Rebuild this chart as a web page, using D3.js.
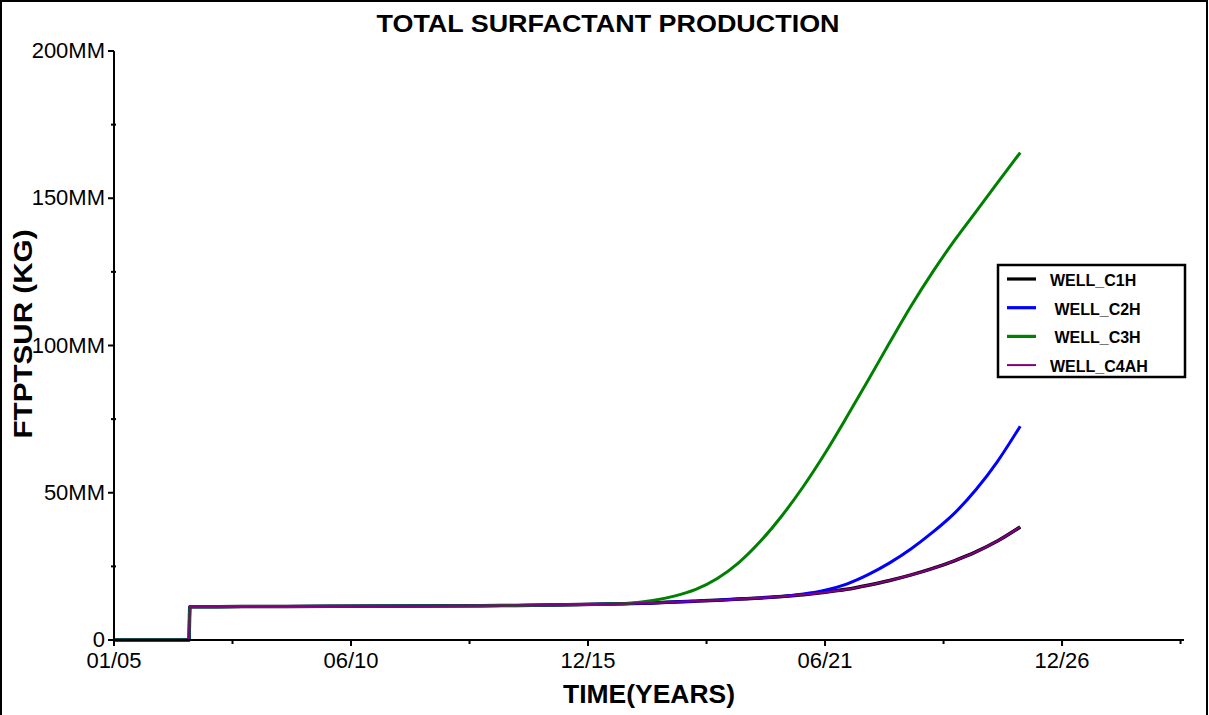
<!DOCTYPE html>
<html>
<head>
<meta charset="utf-8">
<script src="https://cdn.jsdelivr.net/npm/d3@7"></script>
<style>
  body { margin: 0; background: #fff; }
  text { font-family: Arial, "Liberation Sans", sans-serif; }
</style>
</head>
<body>
<script>
// time in decimal years, values in MM kg
const years = [2005.0, 2006.74, 2006.76, 2008, 2010, 2012, 2014, 2015.5, 2016.5, 2017.0,
  2017.5, 2018.0, 2018.5, 2019.0, 2019.5, 2020.0, 2020.5, 2021.0, 2021.5, 2022.0,
  2022.5, 2023.0, 2023.5, 2024.0, 2024.5, 2025.0, 2025.5, 2026.03];

const wellC1H = [0, 0, 11.3, 11.35, 11.45, 11.55, 11.7, 11.95, 12.2, 12.4,
  12.6, 12.9, 13.2, 13.5, 13.9, 14.3, 14.8, 15.4, 16.2, 17.2,
  18.6, 20.2, 22.1, 24.3, 26.9, 29.9, 33.6, 38.4];
const wellC2H = [0, 0, 11.3, 11.35, 11.45, 11.55, 11.7, 11.95, 12.2, 12.4,
  12.6, 12.9, 13.2, 13.5, 13.9, 14.3, 14.8, 15.6, 16.9, 19.0,
  22.2, 26.2, 31.0, 36.6, 43.0, 51.0, 60.6, 72.6];
const wellC3H = [0, 0, 11.3, 11.35, 11.45, 11.55, 11.7, 11.95, 12.22, 12.5,
  13.4, 14.9, 17.2, 20.9, 26.3, 33.5, 42.2, 52.2, 63.4, 75.6,
  88.2, 101.0, 113.5, 125.0, 135.6, 145.4, 155.2, 165.5];
const wellC4AH = [0, 0, 11.3, 11.35, 11.45, 11.55, 11.7, 11.95, 12.2, 12.4,
  12.6, 12.9, 13.2, 13.5, 13.9, 14.3, 14.8, 15.4, 16.2, 17.2,
  18.6, 20.2, 22.1, 24.3, 26.9, 29.9, 33.6, 38.4];

const seriesNames = ["WELL_C1H", " WELL_C2H", " WELL_C3H", "WELL_C4AH"];
const seriesValues = [wellC1H, wellC2H, wellC3H, wellC4AH];
const seriesColors = ["#000000", "#0000ff", "#008000", "#800080"];
const seriesWidths = [3.5, 3, 3, 2.2];

const xTickLabels = ["01/05", "06/10", "12/15", "06/21", "12/26"];
const xTickYears = [2005, 2010.5, 2016, 2021.5, 2027];
const yTicks = [0, 50, 100, 150, 200];
const yTickLabels = ["0", "50MM", "100MM", "150MM", "200MM"];

const W = 1209, H = 715;
const svg = d3.select("body").append("svg").attr("width", W).attr("height", H);

// outer frame
svg.append("rect")
  .attr("x", 1).attr("y", 1).attr("width", 1206).attr("height", 730)
  .attr("fill", "none").attr("stroke", "#000").attr("stroke-width", 2);

const x = d3.scaleLinear().domain([2005, 2029.83]).range([114, 1184]);
const y = d3.scaleLinear().domain([0, 200]).range([640, 51]);

// lines
const line = d3.line()
  .x((d) => x(d[0]))
  .y((d) => y(d[1]))
  .curve(d3.curveMonotoneX);

seriesValues.forEach((vals, i) => {
  svg.append("path")
    .datum(years.map((t, j) => [t, vals[j]]))
    .attr("d", line)
    .attr("fill", "none")
    .attr("stroke", seriesColors[i])
    .attr("stroke-width", seriesWidths[i])
    .attr("stroke-linejoin", "round");
});

// x axis
const xAxis = svg.append("g").attr("transform", "translate(0,640)");
xAxis.append("line").attr("x1", 114).attr("x2", 1184).attr("stroke", "#000").attr("stroke-width", 2);
const xMinor = d3.range(xTickYears.length).map((i) => xTickYears[0] + i * 5.5 + 2.75);
xAxis.selectAll(".xmaj").data(xTickYears).enter().append("line")
  .attr("x1", (d) => x(d)).attr("x2", (d) => x(d))
  .attr("y1", 0).attr("y2", 6).attr("stroke", "#000").attr("stroke-width", 2);
xAxis.selectAll(".xmin").data(xMinor).enter().append("line")
  .attr("x1", (d) => x(d)).attr("x2", (d) => x(d))
  .attr("y1", 0).attr("y2", 4).attr("stroke", "#000").attr("stroke-width", 2);
xAxis.selectAll(".xlab").data(xTickLabels).enter().append("text")
  .attr("x", (d, i) => x(xTickYears[i])).attr("y", 28)
  .attr("text-anchor", "middle").attr("font-size", 22)
  .text((d) => d);

// y axis
const yAxis = svg.append("g");
yAxis.append("line").attr("x1", 114).attr("x2", 114).attr("y1", y(0)).attr("y2", y(200))
  .attr("stroke", "#000").attr("stroke-width", 2);
yAxis.selectAll(".ymaj").data(yTicks).enter().append("line")
  .attr("x1", 108).attr("x2", 114).attr("y1", (d) => y(d)).attr("y2", (d) => y(d))
  .attr("stroke", "#000").attr("stroke-width", 2);
yAxis.selectAll(".ymin").data([25, 75, 125, 175]).enter().append("line")
  .attr("x1", 111).attr("x2", 116).attr("y1", (d) => y(d)).attr("y2", (d) => y(d))
  .attr("stroke", "#000").attr("stroke-width", 2);
yAxis.selectAll(".ylab").data(yTicks).enter().append("text")
  .attr("x", 105).attr("y", (d) => y(d) + 7)
  .attr("text-anchor", "end").attr("font-size", 22)
  .text((d, i) => yTickLabels[i]);

// titles
svg.append("text").attr("x", 608).attr("y", 32).attr("text-anchor", "middle")
  .attr("font-size", 24).attr("font-weight", "bold")
  .attr("textLength", 463).attr("lengthAdjust", "spacingAndGlyphs")
  .text("TOTAL SURFACTANT PRODUCTION");
svg.append("text").attr("x", 649).attr("y", 703).attr("text-anchor", "middle")
  .attr("font-size", 25).attr("font-weight", "bold")
  .attr("textLength", 172).attr("lengthAdjust", "spacingAndGlyphs")
  .text("TIME(YEARS)");
svg.append("text").attr("transform", "translate(32,334) rotate(-90)")
  .attr("text-anchor", "middle")
  .attr("font-size", 25).attr("font-weight", "bold")
  .attr("textLength", 209).attr("lengthAdjust", "spacingAndGlyphs")
  .text("FTPTSUR (KG)");

// legend
const legend = svg.append("g");
legend.append("rect").attr("x", 998).attr("y", 265).attr("width", 187).attr("height", 112)
  .attr("fill", "#fff").attr("stroke", "#000").attr("stroke-width", 2.5);
const ly = (i) => 279 + i * 28.7;
legend.selectAll(".lline").data(seriesNames).enter().append("line")
  .attr("x1", 1007).attr("x2", 1036)
  .attr("y1", (d, i) => ly(i)).attr("y2", (d, i) => ly(i))
  .attr("stroke", (d, i) => seriesColors[i])
  .attr("stroke-width", (d, i) => (i === 3 ? 2 : 3.2));
legend.selectAll(".ltext").data(seriesNames).enter().append("text")
  .attr("x", 1050).attr("y", (d, i) => ly(i) + 7)
  .attr("font-size", 16).attr("font-weight", "bold")
  .style("white-space", "pre")
  .text((d) => d);
</script>
</body>
</html>
